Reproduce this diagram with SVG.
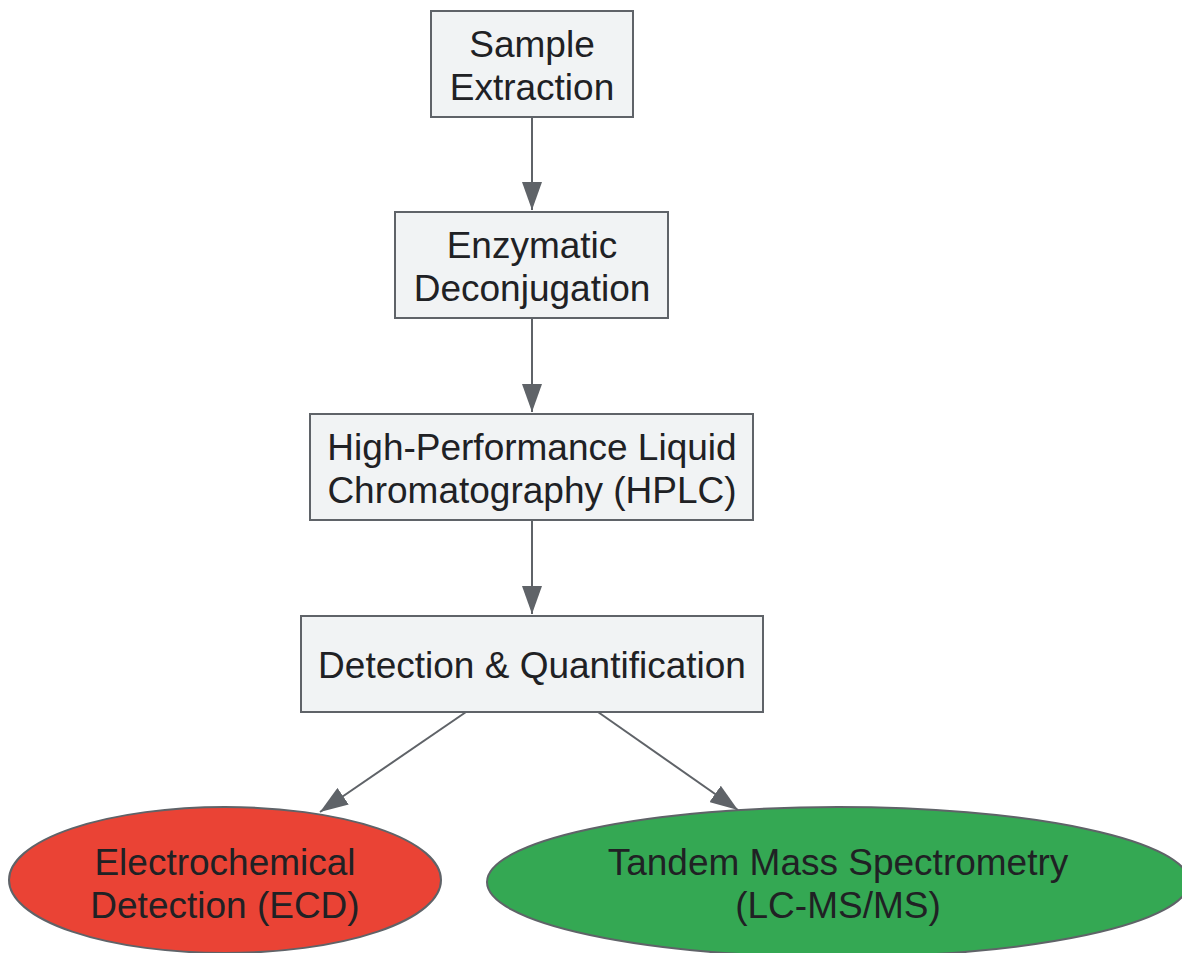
<svg xmlns="http://www.w3.org/2000/svg" width="1182" height="953" viewBox="0 0 1182 953">
<style>
.box{fill:#f1f3f4;stroke:#5f6368;stroke-width:2}
.t{font-family:"Liberation Sans",Arial,sans-serif;font-size:37px;fill:#202124;text-anchor:middle}
.edge{stroke:#5f6368;stroke-width:2;fill:none;marker-end:url(#ah)}
</style>
<defs>
<marker id="ah" markerWidth="28" markerHeight="20" viewBox="0 0 28 20" refX="28" refY="10" orient="auto" markerUnits="userSpaceOnUse">
<path d="M0,0 L28,10 L0,20 Z" fill="#5f6368"/>
</marker>
</defs>
<rect width="1182" height="953" fill="#ffffff"/>
<g id="connectors">
<path class="edge" d="M532,117 L532,210"/>
<path class="edge" d="M532,318 L532,412"/>
<path class="edge" d="M532,520 L532,614"/>
<path class="edge" d="M466,712 L320,812"/>
<path class="edge" d="M598,712 L738,810"/>
</g>
<g id="n1"><rect class="box" x="431" y="11" width="202" height="106"/><text class="t" x="532" y="57">Sample</text><text class="t" x="532" y="100">Extraction</text></g>
<g id="n2"><rect class="box" x="395" y="212" width="273" height="106"/><text class="t" x="532" y="258">Enzymatic</text><text class="t" x="532" y="301">Deconjugation</text></g>
<g id="n3"><rect class="box" x="310" y="414" width="443" height="106"/><text class="t" x="532" y="460">High-Performance Liquid</text><text class="t" x="532" y="503">Chromatography (HPLC)</text></g>
<g id="n4"><rect class="box" x="301" y="616" width="462" height="96"/><text class="t" x="532" y="678">Detection &amp; Quantification</text></g>
<g id="n5"><ellipse cx="225" cy="880" rx="216" ry="73" fill="#ea4335" stroke="#5f6368" stroke-width="2"/><text class="t" x="225" y="875">Electrochemical</text><text class="t" x="225" y="918">Detection (ECD)</text></g>
<g id="n6"><ellipse cx="838" cy="882" rx="351" ry="75" fill="#34a853" stroke="#5f6368" stroke-width="2"/><text class="t" x="838" y="875">Tandem Mass Spectrometry</text><text class="t" x="838" y="918">(LC-MS/MS)</text></g>
</svg>
